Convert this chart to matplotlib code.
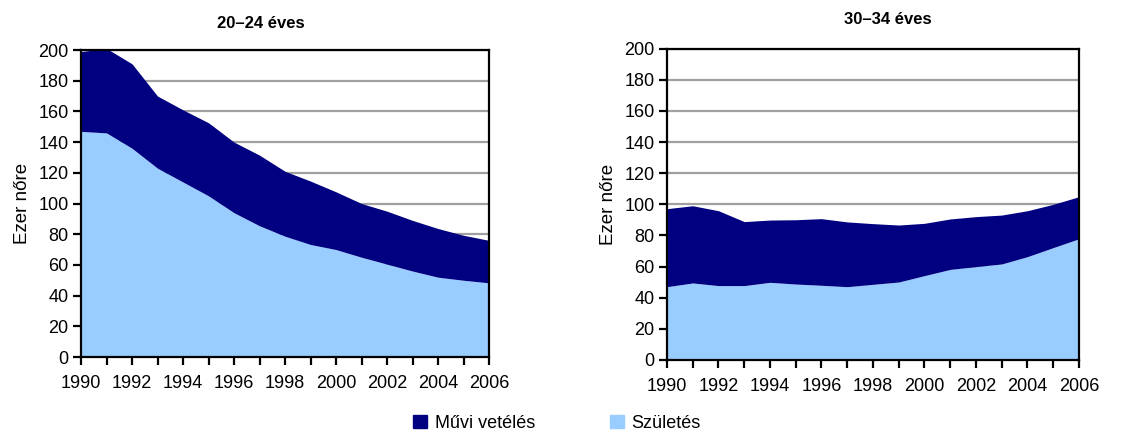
import numpy as np
import matplotlib.pyplot as plt
from matplotlib.patches import Patch

plt.rcParams.update({
    "font.family": ["Liberation Sans", "DejaVu Sans"],
    "font.size": 13,
    "axes.linewidth": 1.6,
    "xtick.major.width": 1.6,
    "ytick.major.width": 1.6,
    "xtick.major.size": 6,
    "ytick.major.size": 6,
})

NAVY = "#000080"
LIGHT = "#99ccff"

years = np.arange(1990, 2007)

# 20-24 éves
born_2024 = [147, 146, 136, 123, 114, 105, 94, 85.5, 78.7, 73.3, 70, 65, 60.5, 56, 52, 50, 48.3]
total_2024 = [199, 201, 191, 170, 161, 152.6, 140, 131.5, 121, 114.6, 107.6, 100, 95, 89, 83.7, 79.3, 76]

# 30-34 éves
born_3034 = [47.1, 49.5, 47.8, 47.8, 49.9, 48.8, 48, 47.1, 48.6, 50.1, 54.2, 58.2, 60, 61.7, 66.4, 72.2, 77.9]
total_3034 = [97.2, 99.1, 95.9, 88.9, 89.9, 90.1, 90.8, 88.7, 87.6, 86.7, 87.8, 90.6, 92.1, 93.1, 95.9, 100, 104.9]

panels = [
    ("20–24 éves", born_2024, total_2024, [0.0719, 0.1755, 0.362, 0.709], (0.2316, 0.945)),
    ("30–34 éves", born_3034, total_3034, [0.5918, 0.1686, 0.3656, 0.719], (0.788, 0.954)),
]

fig = plt.figure(figsize=(11.27, 4.33), dpi=100)

for title, born, total, rect, tpos in panels:
    ax = fig.add_axes(rect)
    born = np.array(born)
    total = np.array(total)
    ax.fill_between(years, 0, born, color=LIGHT, lw=0, zorder=2)
    ax.fill_between(years, born, total, color=NAVY, lw=0, zorder=2)
    ax.set_xlim(1990, 2006)
    ax.set_ylim(0, 200)
    ax.set_yticks(np.arange(0, 201, 20))
    ax.set_xticks(years)
    ax.set_xticklabels([str(y) if y % 2 == 0 else "" for y in years])
    ax.yaxis.grid(True, color="#a0a0a0", lw=1.6, zorder=1)
    ax.set_axisbelow(True)
    ax.tick_params(axis="x", direction="out", pad=7)
    ax.tick_params(axis="y", pad=3)
    ax.set_ylabel("Ezer nőre", fontsize=13.5, labelpad=5)
    fig.text(tpos[0], tpos[1], title, fontsize=12, fontweight="bold",
             ha="center", va="center")
    for s in ax.spines.values():
        s.set_color("black")
        s.set_zorder(5)

leg_kw = dict(loc="center left", frameon=False, borderpad=0, borderaxespad=0,
              handlelength=0.75, handleheight=0.75, handletextpad=0.45, fontsize=13)
fig.legend(handles=[Patch(color=NAVY, label="Művi vetélés")],
           bbox_to_anchor=(413 / 1127, 1 - 423 / 433), **leg_kw)
fig.legend(handles=[Patch(color=LIGHT, label="Születés")],
           bbox_to_anchor=(610 / 1127, 1 - 423 / 433), **leg_kw)

fig.savefig("out.png", dpi=100)
